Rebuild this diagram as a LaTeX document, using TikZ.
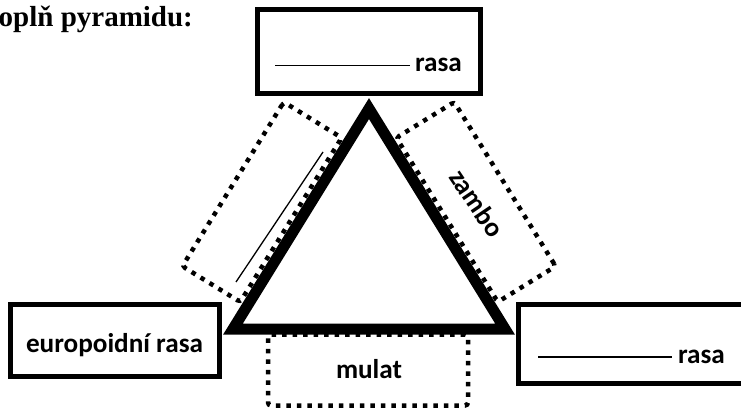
\documentclass[tikz,border=0pt]{standalone}
\usepackage{fontspec}
\setmainfont{Liberation Serif}
\newfontfamily\calfont{Carlito}
\begin{document}
\begin{tikzpicture}[x=1pt,y=-1pt,
  solidbox/.style={draw=black, line width=4.8pt, fill=white, inner sep=0pt},
  dotbox/.style={draw=black, line width=4.5pt, dash pattern=on 4.5pt off 6pt, rounded corners=3pt, inner sep=0pt},
  lbl/.style={font=\calfont\bfseries\fontsize{27.2}{32}\selectfont, inner sep=0pt},
  tri/.style={line width=11pt, line join=miter},
  blank/.style={line width=1.3pt},
]
\useasboundingbox (0,0) rectangle (741,409);
\node[font=\bfseries\fontsize{29}{33}\selectfont, anchor=base west, inner sep=0pt] (title) at (-1.5,27) {oplň pyramidu:};
% triangle
\coordinate (A) at (369,108.6);
\coordinate (L) at (233,329);
\coordinate (R) at (505,329);
\draw[tri] (A) -- (L) -- (R) -- cycle;
% solid boxes
\node[solidbox, minimum width=223pt, minimum height=84pt] (topbox) at (369,51.5) {};
\node[solidbox, minimum width=209pt, minimum height=72pt] (leftbox) at (115,340.5) {};
\node[solidbox, minimum width=225pt, minimum height=79pt] (rightbox) at (631,344) {};
% dotted boxes
\node[dotbox, minimum width=193pt, minimum height=68pt, rotate=58.3] (ldot) at (262,202) {};
\node[dotbox, minimum width=193pt, minimum height=68pt, rotate=-58.3] (rdot) at (476,202) {};
\node[dotbox, minimum width=200pt, minimum height=71pt] (bdot) at (368,370) {};
% answer line in left dotted box
\coordinate (w1) at (323,152);
\coordinate (w2) at (236,282);
\draw[blank] (w1) -- (w2);
% labels
\node[lbl, anchor=base] (toptxt) at (368.5,72) {\rule[6pt]{135pt}{1.3pt}\hspace{5pt}rasa};
\node[lbl, anchor=base] (righttxt) at (631.5,363) {\rule[5.5pt]{134pt}{1.3pt}\hspace{6pt}rasa};
\node[lbl, anchor=base] (lefttxt) at (114.5,352) {europoidní rasa};
\node[lbl, anchor=base] (mulat) at (369,378) {mulat};
\node[lbl, rotate=-56] (zambo) at (477,203) {zambo};
\end{tikzpicture}
\end{document}
